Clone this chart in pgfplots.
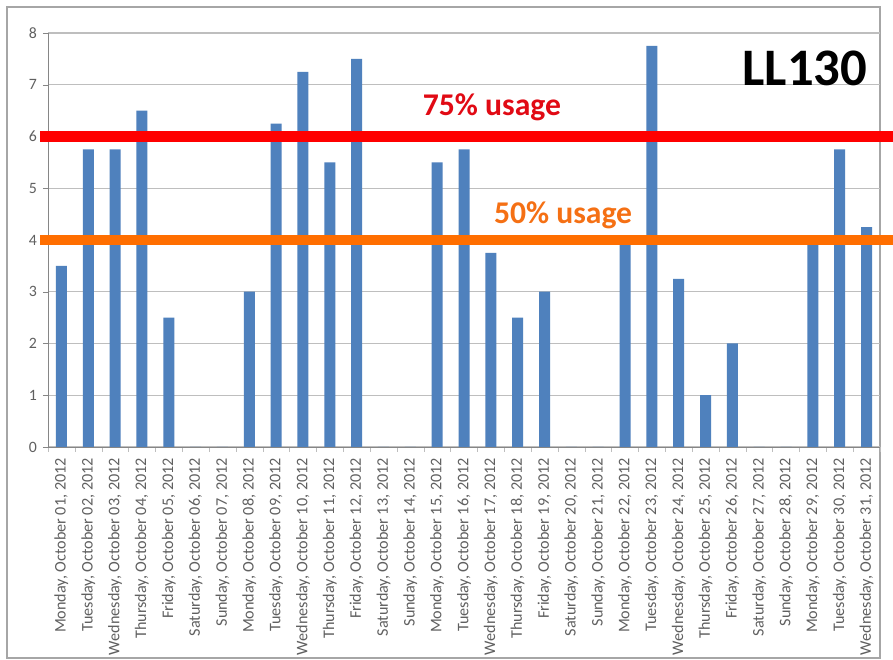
\documentclass[border=0pt]{standalone}
\usepackage{fontspec}
\setmainfont{Carlito}
\usepackage{pgfplots}
\pgfplotsset{compat=1.18}
\definecolor{barblue}{RGB}{79,129,189}
\definecolor{lblgray}{RGB}{96,96,96}
\definecolor{gridgray}{RGB}{190,190,190}
\definecolor{axgray}{RGB}{134,134,134}
\definecolor{redline}{RGB}{255,0,0}
\definecolor{orangeline}{RGB}{255,110,0}
\definecolor{redtext}{RGB}{225,10,20}
\definecolor{orangetext}{RGB}{245,112,20}
\begin{document}
\begin{tikzpicture}
\useasboundingbox (0,0) rectangle (17.86,13.2);
\fill[white] (0,0) rectangle (17.86,13.2);
\draw[gray!70, line width=0.6pt] (0.14,0.04) rectangle (17.6,13.06);
\begin{axis}[
  at={(0.96cm,4.26cm)}, anchor=south west, scale only axis,
  width=16.64cm, height=8.28cm,
  xmin=0.5, xmax=31.5, ymin=0, ymax=8,
  clip=false,
  axis x line=bottom, axis y line=left,
  axis line style={-, draw=axgray},
  xtick={1,...,31},
  major x tick style={draw=none},
  minor xtick={0.5,1.5,...,31.5},
  minor tick length=0.1cm,
  minor x tick style={draw=gridgray},
  ytick={0,...,8},
  major tick length=0.1cm,
  tick align=outside,
  y tick style={draw=axgray},
  ymajorgrids=true,
  grid style={draw=gridgray, line width=0.6pt},
  /pgf/number format/assume math mode=true,
  yticklabel style={font=\fontsize{9}{10}\selectfont, text=lblgray},
  xticklabel style={rotate=90, anchor=east, font=\fontsize{9.2}{10}\selectfont, text=lblgray},
  xticklabels={
    {Monday, October 01, 2012},{Tuesday, October 02, 2012},{Wednesday, October 03, 2012},
    {Thursday, October 04, 2012},{Friday, October 05, 2012},{Saturday, October 06, 2012},
    {Sunday, October 07, 2012},{Monday, October 08, 2012},{Tuesday, October 09, 2012},
    {Wednesday, October 10, 2012},{Thursday, October 11, 2012},{Friday, October 12, 2012},
    {Saturday, October 13, 2012},{Sunday, October 14, 2012},{Monday, October 15, 2012},
    {Tuesday, October 16, 2012},{Wednesday, October 17, 2012},{Thursday, October 18, 2012},
    {Friday, October 19, 2012},{Saturday, October 20, 2012},{Sunday, October 21, 2012},
    {Monday, October 22, 2012},{Tuesday, October 23, 2012},{Wednesday, October 24, 2012},
    {Thursday, October 25, 2012},{Friday, October 26, 2012},{Saturday, October 27, 2012},
    {Sunday, October 28, 2012},{Monday, October 29, 2012},{Tuesday, October 30, 2012},
    {Wednesday, October 31, 2012}},
]
\addplot[ybar, bar width=0.22cm, bar shift=0pt, fill=barblue, draw=none] coordinates {
  (1,3.5) (2,5.75) (3,5.75) (4,6.5) (5,2.5) (6,0) (7,0) (8,3) (9,6.25) (10,7.25)
  (11,5.5) (12,7.5) (13,0) (14,0) (15,5.5) (16,5.75) (17,3.75) (18,2.5) (19,3)
  (20,0) (21,0) (22,4) (23,7.75) (24,3.25) (25,1) (26,2) (27,0) (28,0) (29,4)
  (30,5.75) (31,4.25)
};
\addplot[redline, line width=6.8pt, forget plot] coordinates {(0.2,6) (31.98,6)};
\addplot[orangeline, line width=5.7pt, forget plot] coordinates {(0.2,4) (31.98,4)};
\node[font=\bfseries\fontsize{18}{20}\selectfont, text=redtext] at (axis cs:17.04,6.57) {75\% usage};
\node[font=\bfseries\fontsize{18}{20}\selectfont, text=orangetext] at (axis cs:19.69,4.48) {50\% usage};
\node[font=\bfseries\fontsize{30}{34}\selectfont, text=black] at (axis cs:28.7,7.32) {LL130};
\end{axis}
\end{tikzpicture}
\end{document}
